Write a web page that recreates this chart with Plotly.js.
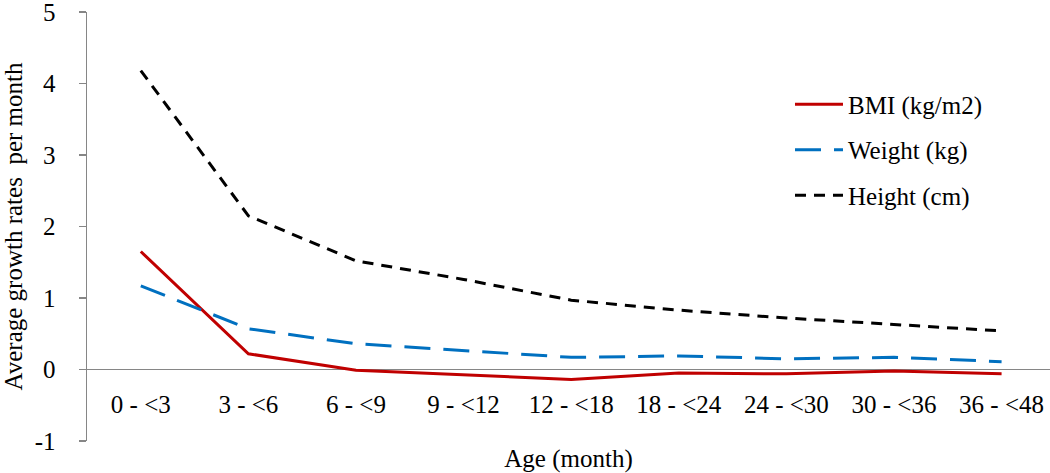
<!DOCTYPE html>
<html>
<head>
<meta charset="utf-8">
<script src="https://cdn.plot.ly/plotly-3.0.1.min.js"></script>
<style>html,body{margin:0;padding:0;background:#fff;}#chart{width:1050px;height:473px;}</style>
</head>
<body>
<div id="chart"></div>
<script>
const categories = ["0 - <3","3 - <6","6 - <9","9 - <12","12 - <18","18 - <24","24 - <30","30 - <36","36 - <48"];
const bmi = [1.65, 0.22, -0.01, -0.07, -0.14, -0.05, -0.06, -0.02, -0.06];
const weight = [1.17, 0.57, 0.36, 0.27, 0.17, 0.19, 0.15, 0.17, 0.11];
const height = [4.18, 2.15, 1.52, 1.26, 0.97, 0.83, 0.72, 0.63, 0.54];
const yTicks = [-1, 0, 1, 2, 3, 4, 5];

const font = {family: "Liberation Serif, Times New Roman, serif", size: 25, color: "#000"};
const xIdx = categories.map((c, i) => i);

const traces = [
  {x: xIdx, y: bmi, name: "BMI (kg/m2)", mode: "lines", legendgroup: "a",
   line: {color: "#C00000", width: 3}},
  {x: xIdx, y: weight, name: "Weight (kg)", mode: "lines", legendgroup: "b",
   line: {color: "#0070C0", width: 3, dash: "26px,13px"}},
  {x: xIdx, y: height, name: "Height (cm)", mode: "lines", legendgroup: "c",
   line: {color: "#000000", width: 3, dash: "11px,8px"}}
];

const layout = {
  width: 1050, height: 473,
  margin: {l: 87, r: 0, t: 12, b: 32},
  paper_bgcolor: "#fff", plot_bgcolor: "#fff",
  font: font,
  showlegend: true,
  legend: {x: 0.73, y: 0.838, xanchor: "left", yanchor: "top", font: font,
           traceorder: "grouped", tracegroupgap: 10, itemwidth: 48, bgcolor: "rgba(0,0,0,0)"},
  xaxis: {
    range: [-0.5, 8.45], tickmode: "array", tickvals: xIdx, ticktext: categories,
    showgrid: false, zeroline: false, showline: false, ticks: "",
    anchor: "free", position: 0.172, ticklabelstandoff: 20,
    tickfont: font,
    title: {text: "Age (month)", font: font, standoff: 32}
  },
  yaxis: {
    range: [-1, 5], tickmode: "array", tickvals: yTicks, ticktext: yTicks.map(String),
    showgrid: false, zeroline: true, zerolinecolor: "#868686", zerolinewidth: 1.5,
    showline: true, linecolor: "#868686", linewidth: 1.5,
    ticks: "outside", ticklen: 7, tickcolor: "#868686", tickwidth: 1.5,
    ticklabelstandoff: 18, ticklabeloverflow: "allow", tickfont: font,
    title: {text: "Average growth rates  per month", font: font, standoff: 14}
  }
};

Plotly.newPlot("chart", traces, layout, {displayModeBar: false, staticPlot: true});
</script>
</body>
</html>
